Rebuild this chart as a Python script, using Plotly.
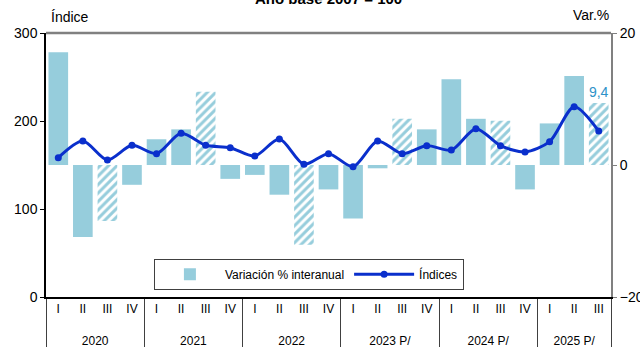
import plotly.graph_objects as go

years = ["2020"] * 4 + ["2021"] * 4 + ["2022"] * 4 + ["2023 P/"] * 4 + ["2024 P/"] * 4 + ["2025 P/"] * 3
quarters = ["I", "II", "III", "IV"] * 5 + ["I", "II", "III"]

variacion = [17.1, -10.9, -8.5, -3.0,
             3.9, 5.4, 11.1, -2.1,
             -1.5, -4.5, -12.1, -3.7,
             -8.1, -0.5, 7.0, 5.4,
             13.0, 7.0, 6.7, -3.7,
             6.3, 13.5, 9.4]

indices = [158.3, 177.3, 155.7, 172.4,
           162.9, 186.0, 172.4, 169.7,
           160.2, 179.5, 150.8, 162.9,
           148.1, 177.3, 162.9, 172.0,
           167.0, 191.3, 172.0, 164.8,
           176.5, 216.3, 188.6]

bar_labels = [""] * 22 + ["9,4"]
hatched = [q == "III" for q in quarters]

BAR = "#96CDDC"
LINE = "#0A2FCC"
FONT = "Liberation Sans"
n = len(quarters)

# quarter labels get an empty second line so the year row sits lower
quarter_cats = [q + "<br> " for q in quarters]

fig = go.Figure()
fig.add_trace(go.Bar(
    x=[years, quarter_cats], y=variacion, name="Variación % interanual",
    marker=dict(color=BAR, line=dict(width=0),
                pattern=dict(shape=["/" if h else "" for h in hatched],
                             fillmode="replace", fgcolor=BAR, bgcolor="white",
                             size=6, solidity=0.5)),
    text=bar_labels, textposition="outside", cliponaxis=False,
    textfont=dict(color="#2E92C8", size=14, family=FONT),
    yaxis="y",
))
fig.add_trace(go.Scatter(
    x=[years, quarter_cats], y=indices, name="Índices", mode="lines+markers",
    line=dict(color=LINE, width=3, shape="spline", smoothing=0.8),
    marker=dict(color=LINE, size=7),
    yaxis="y2",
))

fig.update_layout(
    width=640, height=347,
    margin=dict(l=46, r=29, t=33, b=50),
    paper_bgcolor="white", plot_bgcolor="white",
    font=dict(family=FONT, size=13, color="black"),
    bargap=0.2,
    showlegend=True,
    legend=dict(orientation="h", x=0.191, y=0.027, xanchor="left", yanchor="bottom",
                bordercolor="#404040", borderwidth=1, bgcolor="white",
                font=dict(size=12, family=FONT), itemwidth=60, tracegroupgap=0),
    xaxis=dict(type="multicategory", range=[-0.5, n - 0.5], automargin=False,
               showline=True, linecolor="black", linewidth=1.5,
               ticks="", showgrid=False, showdividers=True, dividercolor="#404040",
               dividerwidth=1, tickfont=dict(size=12)),
    yaxis=dict(side="right", range=[-20, 20], dtick=20, showgrid=False, zeroline=False,
               automargin=False,
               showline=True, linecolor="#808080", linewidth=2, ticks="outside",
               ticklen=4, tickcolor="#808080", tickfont=dict(size=14)),
    yaxis2=dict(side="left", overlaying="y", range=[0, 300], dtick=100, showgrid=False,
                zeroline=False, automargin=False, showline=True, linecolor="black",
                linewidth=1.5, ticks="outside", ticklen=4, tickcolor="black",
                tickfont=dict(size=14)),
    shapes=[dict(type="line", xref="paper", yref="paper", x0=0, x1=1, y0=1, y1=1,
                 line=dict(color="#808080", width=2.5))],
    annotations=[
        dict(text="Índice", xref="paper", yref="paper", x=0.005, y=1.0, yshift=6,
             xanchor="left", yanchor="bottom", showarrow=False, font=dict(size=14)),
        dict(text="Var.%", xref="paper", yref="paper", x=1.0, y=1.0, yshift=8,
             xanchor="right", yanchor="bottom", showarrow=False, font=dict(size=14)),
        dict(text="<b>Año base 2007 = 100</b>", xref="paper", yref="paper", x=0.5, y=1.0,
             yshift=24, xanchor="center", yanchor="bottom", showarrow=False,
             font=dict(size=15)),
    ],
)

fig.write_html("out.html", config={"displayModeBar": False},
               post_script="document.body.style.margin='0';")
